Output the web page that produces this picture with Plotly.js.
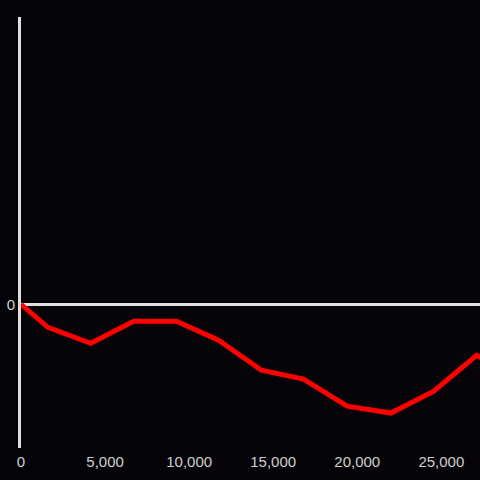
<!DOCTYPE html>
<html>
<head>
<meta charset="utf-8">
<script src="https://cdn.plot.ly/plotly-3.0.1.min.js"></script>
<style>html,body{margin:0;padding:0;background:#050307;}#chart{width:480px;height:480px;}</style>
</head>
<body>
<div id="chart"></div>
<script>
const xValues = [0, 1600, 4150, 6700, 9250, 11750, 14300, 16800, 19400, 22000, 24550, 27100, 29650];
const yValues = [0, -23, -39, -17, -17, -36, -66, -75, -102, -109, -87, -51, -75];
const xTickVals = [0, 5000, 10000, 15000, 20000, 25000];
const xTickText = ['0', '5,000', '10,000', '15,000', '20,000', '25,000'];
const yTickVals = [0];
const yTickText = ['0'];

Plotly.newPlot('chart', [{
  x: xValues, y: yValues, type: 'scatter', mode: 'lines',
  line: {color: '#ff0000', width: 5}, hoverinfo: 'none'
}], {
  width: 480, height: 480,
  paper_bgcolor: '#050307', plot_bgcolor: '#050307',
  margin: {l: 21, r: 0, t: 17, b: 32},
  showlegend: false,
  font: {family: 'Liberation Sans, Arial, sans-serif', size: 15, color: '#d0d0d0'},
  xaxis: {range: [0, 27300], tickvals: xTickVals, ticktext: xTickText, showgrid: false,
          zeroline: false, showline: false, ticks: '', ticklabelstandoff: 3,
          tickfont: {size: 15, color: '#d0d0d0'}},
  yaxis: {range: [-144, 288], tickvals: yTickVals, ticktext: yTickText, showgrid: false,
          zeroline: true, zerolinecolor: '#e0e0e0', zerolinewidth: 3,
          showline: true, linecolor: '#e0e0e0', linewidth: 3, ticks: '',
          tickfont: {size: 15, color: '#d0d0d0'}}
}, {staticPlot: true});
</script>
</body>
</html>
